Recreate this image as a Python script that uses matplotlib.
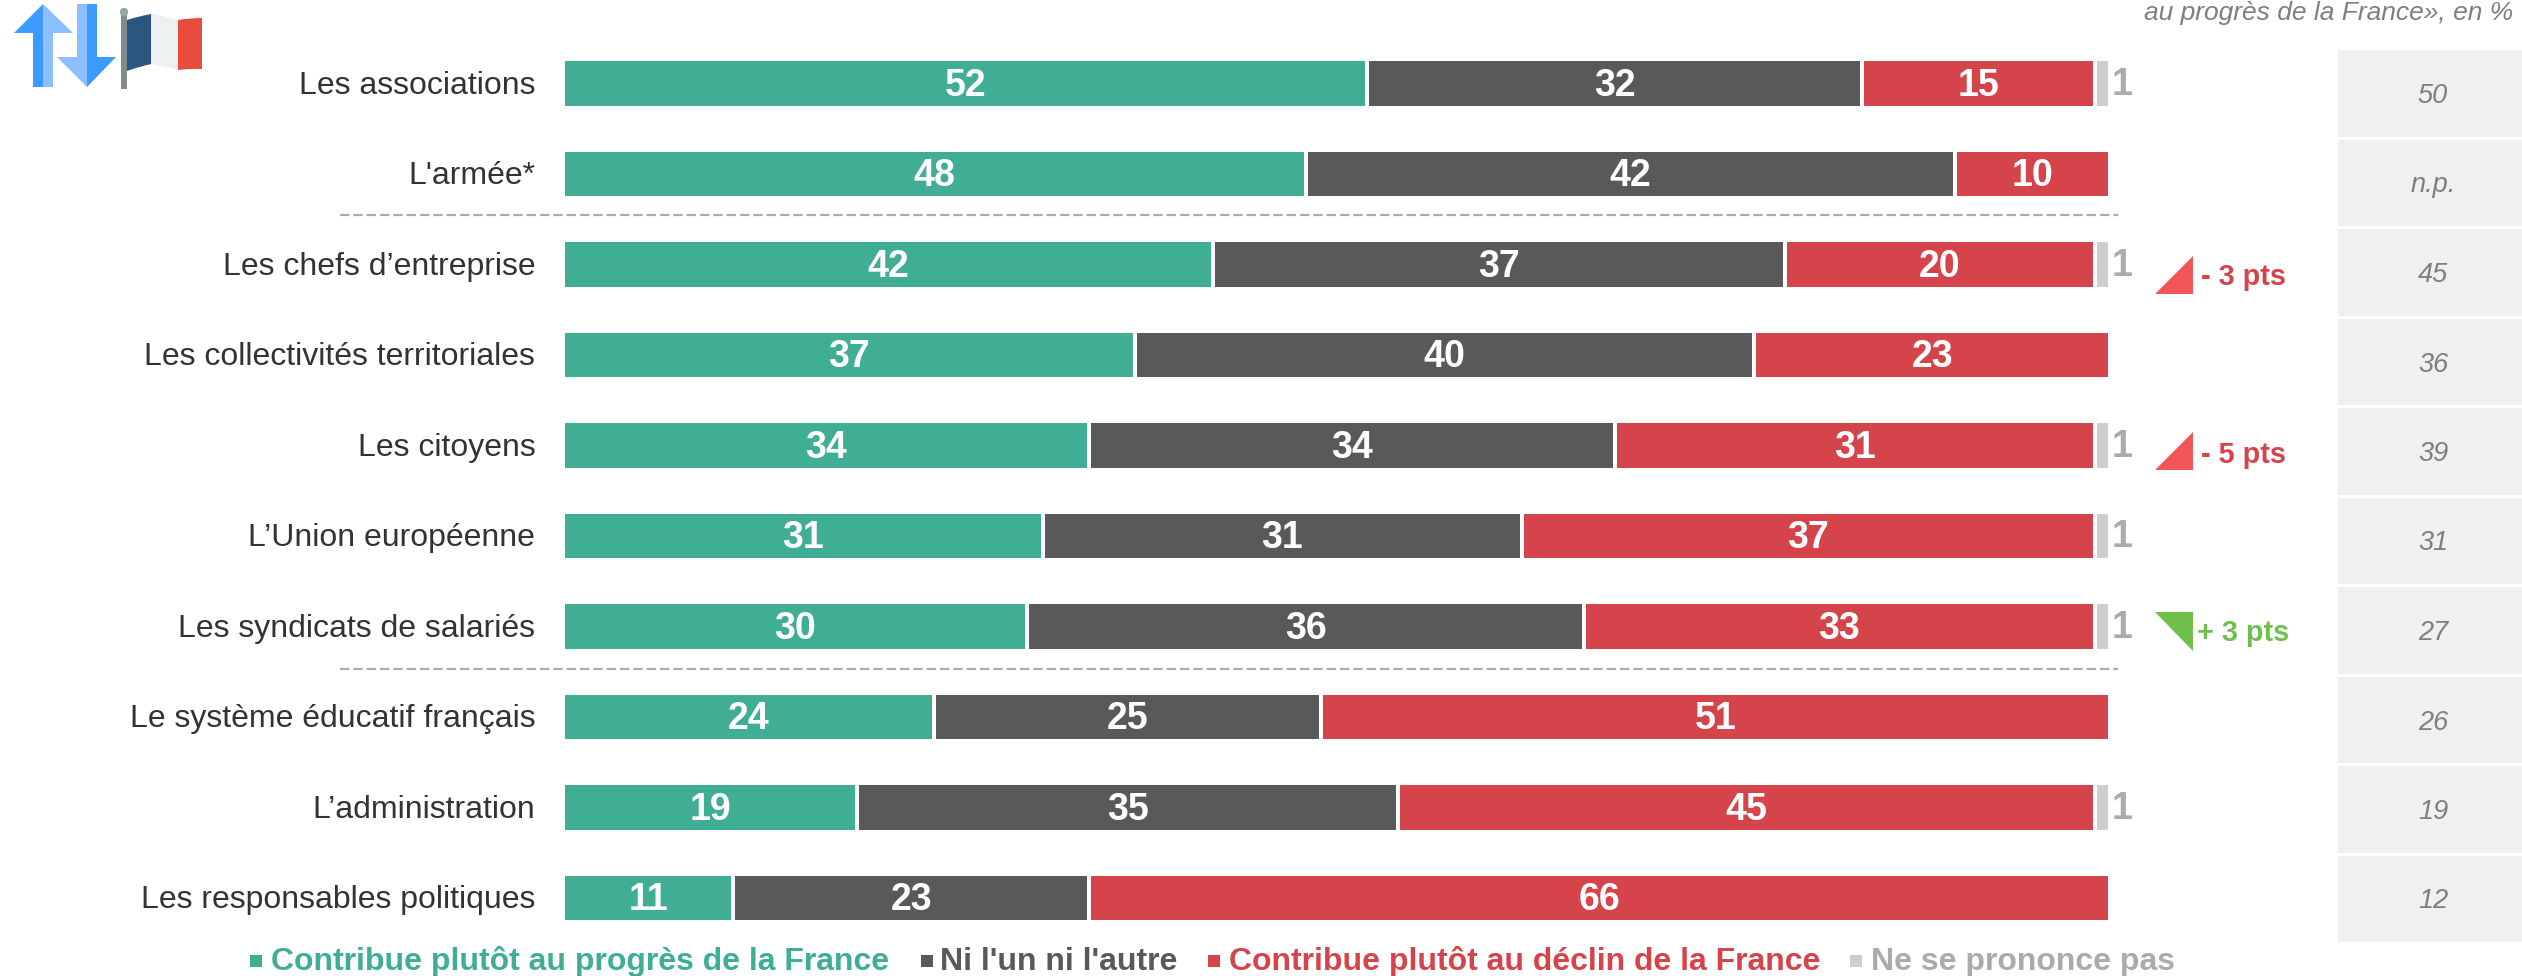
import matplotlib
matplotlib.use("Agg")
import matplotlib.pyplot as plt
from matplotlib.patches import Polygon, Rectangle, Circle, PathPatch
from matplotlib.path import Path

plt.rcParams['font.family'] = ['Liberation Sans', 'DejaVu Sans']

# ---------- data ----------
categories = ["Les associations", "L'armée*", "Les chefs d’entreprise",
              "Les collectivités territoriales", "Les citoyens", "L’Union européenne",
              "Les syndicats de salariés", "Le système éducatif français",
              "L’administration", "Les responsables politiques"]
progres = [52, 48, 42, 37, 34, 31, 30, 24, 19, 11]
neutre = [32, 42, 37, 40, 34, 31, 36, 25, 35, 23]
declin = [15, 10, 20, 23, 31, 37, 33, 51, 45, 66]
nsp = [1, 0, 1, 0, 1, 1, 1, 0, 1, 0]
previous = ["50", "n.p.", "45", "36", "39", "31", "27", "26", "19", "12"]
series_names = ["Contribue plutôt au progrès de la France", "Ni l'un ni l'autre",
                "Contribue plutôt au déclin de la France", "Ne se prononce pas"]

GREEN, DARK, RED, GREY = "#3FAE94", "#595959", "#D6444B", "#CFCECE"
W, H = 2522, 976

fig = plt.figure(figsize=(W / 100, H / 100), dpi=100, facecolor="white")

def px_axes(x0, y0, x1, y1, **kw):
    return fig.add_axes([x0 / W, 1 - y1 / H, (x1 - x0) / W, (y1 - y0) / H], **kw)

# overlay in pixel coordinates for decorations
ov = px_axes(0, 0, W, H, zorder=1)
ov.set_xlim(0, W); ov.set_ylim(H, 0); ov.axis("off")

# ---------- stacked bars ----------
ax = px_axes(563, 38.25, 2110, 943.25, zorder=2)
ax.patch.set_alpha(0)
ax.set_xlim(0, 100)
ax.set_ylim(len(categories) - 0.5, -0.5)
for s in ax.spines.values():
    s.set_visible(False)
ax.set_xticks([])
ax.set_yticks([])

ypos = list(range(len(categories)))
for i, name in enumerate(categories):
    ax.text(-1.79, i - 0.012, name, ha="right", va="center_baseline", fontsize=23,
            color="#333333", clip_on=False)

left = [0] * len(categories)
for vals, col in [(progres, GREEN), (neutre, DARK), (declin, RED), (nsp, GREY)]:
    ax.barh(ypos, vals, left=left, height=0.541, color=col, edgecolor="white", linewidth=2.88)
    for i, v in enumerate(vals):
        if v and col != GREY:
            ax.text(left[i] + v / 2, i + 0.025, str(v), ha="center", va="center",
                    fontsize=27, fontweight="bold", color="white")
        elif v:
            ax.text(left[i] + v + 0.08, i + 0.015, str(v), ha="left", va="center",
                    fontsize=27, fontweight="bold", color="#ABABAB", clip_on=False)
    left = [a + b for a, b in zip(left, vals)]

# ---------- dashed separators ----------
for y in (215, 669):
    ov.plot([340, 2118], [y, y], color="#ABABAB", lw=1.6, dashes=(4.2, 1.8))

# ---------- side column ----------
ov.text(2513, 20, "au progrès de la France», en %", ha="right", va="baseline",
        fontsize=19, style="italic", color="#7F7F7F")
for i, lab in enumerate(previous):
    top = 50 + 89.5 * i
    ov.add_patch(Rectangle((2338, top), 184, 86.5, fc="#F0F0F0", ec="none"))
    ov.text(2433, top + 46, lab, ha="center", va="center", fontsize=19.5,
            style="italic", color="#7F7F7F")

# ---------- evolution annotations ----------
RT, GT = "#F2565B", "#70BF4B"
ov.add_patch(Polygon([(2155, 294), (2193, 256), (2193, 294)], fc=RT, ec="none"))
ov.text(2201, 285, "- 3 pts", fontsize=20.8, fontweight="bold", color=RED, va="baseline")
ov.add_patch(Polygon([(2155, 470), (2193, 432), (2193, 470)], fc=RT, ec="none"))
ov.text(2201, 463, "- 5 pts", fontsize=20.8, fontweight="bold", color=RED, va="baseline")
ov.add_patch(Polygon([(2155, 612), (2193, 612), (2193, 651)], fc=GT, ec="none"))
ov.text(2197, 641, "+ 3 pts", fontsize=20.8, fontweight="bold", color=GT, va="baseline")

# ---------- legend ----------
legend_x = [(250, 271), (921, 940), (1208, 1229), (1850, 1871)]
legend_sq = [GREEN, DARK, RED, GREY]
legend_tx = [GREEN, DARK, RED, "#ABABAB"]
for (xs, xt), name, cs, ct in zip(legend_x, series_names, legend_sq, legend_tx):
    ov.add_patch(Rectangle((xs, 955), 12, 12, fc=cs, ec="none"))
    ov.text(xt, 970, name, fontsize=23, fontweight="bold", color=ct, va="baseline")

# ---------- icons ----------
D, L = "#3D9BFF", "#8BBFFF"
ov.add_patch(Polygon([(43, 4), (14, 33), (33, 33), (33, 87), (43, 87)], fc=D, ec="none"))
ov.add_patch(Polygon([(43, 4), (73, 33), (53, 33), (53, 87), (43, 87)], fc=L, ec="none"))
ov.add_patch(Polygon([(87, 87), (57, 57), (77, 57), (77, 4), (87, 4)], fc=L, ec="none"))
ov.add_patch(Polygon([(87, 87), (116, 57), (97, 57), (97, 4), (87, 4)], fc=D, ec="none"))
ov.add_patch(Rectangle((121, 12), 6, 77, fc="#7F8C8D", ec="none"))
ov.add_patch(Circle((124, 12), 4.2, fc="#95A5A6", ec="none"))

def flag_band(x0, x1, t0, t1, b0, b1, col):
    verts = [(x0, t0), ((x0 + x1) / 2, (t0 + t1) / 2 - 1), (x1, t1), (x1, b1),
             ((x0 + x1) / 2, (b0 + b1) / 2 - 1), (x0, b0), (x0, t0)]
    codes = [Path.MOVETO, Path.CURVE3, Path.CURVE3, Path.LINETO,
             Path.CURVE3, Path.CURVE3, Path.CLOSEPOLY]
    ov.add_patch(PathPatch(Path(verts, codes), fc=col, ec="none"))

flag_band(127, 151.5, 20, 14, 71, 64, "#2C5680")
flag_band(151, 178.5, 14, 20, 64, 70, "#ECF0F1")
flag_band(178, 202, 20, 18, 70, 69, "#E74C3C")

fig.savefig("out.png", dpi=100, facecolor="white")
